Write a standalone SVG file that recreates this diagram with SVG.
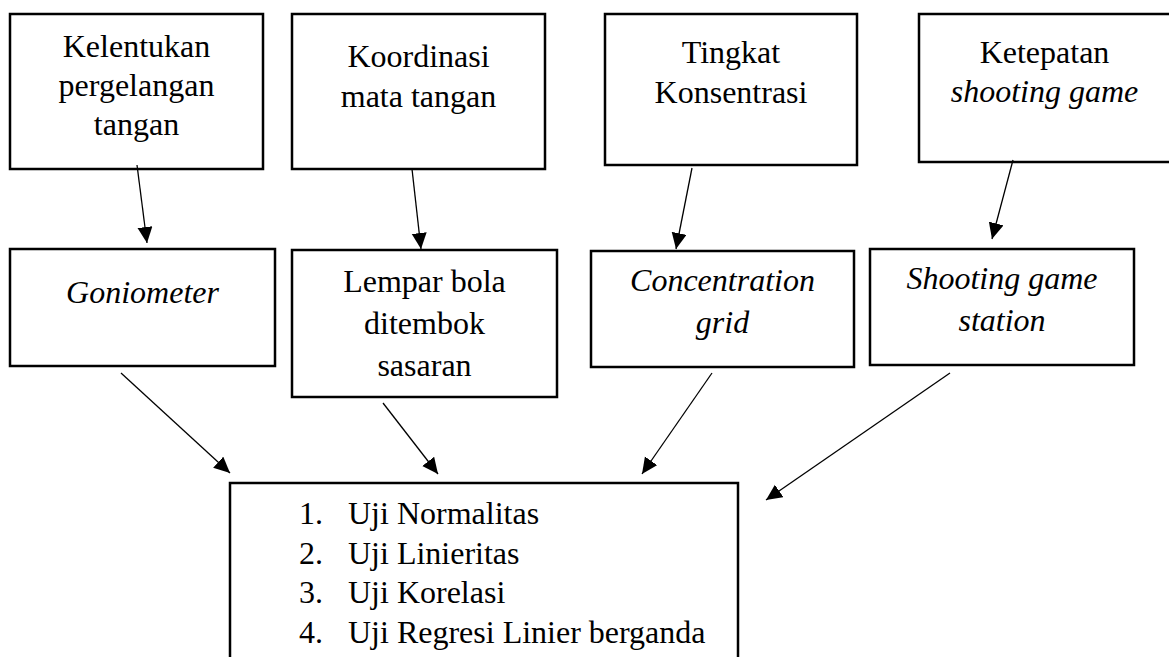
<svg xmlns="http://www.w3.org/2000/svg" width="1169" height="657" viewBox="0 0 1169 657">
<style>
.box{fill:#fff;stroke:#000;stroke-width:2.5}
.t{font-family:"Liberation Serif","Times New Roman",serif;font-size:32px;fill:#000;text-anchor:middle}
.i{font-style:italic}
.l{text-anchor:start}
.c{stroke:#000;stroke-width:1.3;fill:none;marker-end:url(#ah)}
</style>
<defs>
<marker id="ah" markerUnits="userSpaceOnUse" markerWidth="17" markerHeight="16" refX="16" refY="7.5" orient="auto">
<path d="M0,0 L16,7.5 L0,15 z" fill="#000"/>
</marker>
</defs>
<rect width="1169" height="657" fill="#fff"/>
<g id="n1"><rect class="box" x="10" y="14" width="253" height="155"/>
<text class="t" x="136.5" y="57">Kelentukan</text><text class="t" x="136.5" y="96">pergelangan</text><text class="t" x="136.5" y="135">tangan</text></g>
<g id="n2"><rect class="box" x="292" y="14" width="253" height="155"/>
<text class="t" x="418.5" y="67">Koordinasi</text><text class="t" x="418.5" y="107">mata tangan</text></g>
<g id="n3"><rect class="box" x="605" y="14" width="252" height="151"/>
<text class="t" x="731" y="63">Tingkat</text><text class="t" x="731" y="103">Konsentrasi</text></g>
<g id="n4"><rect class="box" x="919" y="14" width="252" height="148"/>
<text class="t" x="1044.5" y="63">Ketepatan</text><text class="t i" x="1044.5" y="102">shooting game</text></g>
<g id="n5"><rect class="box" x="10" y="249" width="265" height="117"/>
<text class="t i" x="142.5" y="303">Goniometer</text></g>
<g id="n6"><rect class="box" x="292" y="250" width="265" height="147"/>
<text class="t" x="424.5" y="292">Lempar bola</text><text class="t" x="424.5" y="334">ditembok</text><text class="t" x="424.5" y="376">sasaran</text></g>
<g id="n7"><rect class="box" x="591" y="251" width="263" height="116"/>
<text class="t i" x="722.5" y="291">Concentration</text><text class="t i" x="722.5" y="333">grid</text></g>
<g id="n8"><rect class="box" x="870" y="249" width="264" height="116"/>
<text class="t i" x="1002" y="289">Shooting game</text><text class="t i" x="1002" y="331">station</text></g>
<g id="n9"><rect class="box" x="230" y="483" width="508" height="200"/>
<text class="t l" x="299" y="524">1.</text><text class="t l" x="348" y="524">Uji Normalitas</text>
<text class="t l" x="299" y="564">2.</text><text class="t l" x="348" y="564">Uji Linieritas</text>
<text class="t l" x="299" y="603">3.</text><text class="t l" x="348" y="603">Uji Korelasi</text>
<text class="t l" x="299" y="643">4.</text><text class="t l" x="348" y="643">Uji Regresi Linier berganda</text></g>
<g id="connectors">
<line class="c" x1="137" y1="165" x2="147" y2="243"/>
<line class="c" x1="412" y1="169" x2="421" y2="249"/>
<line class="c" x1="692" y1="168" x2="676" y2="249"/>
<line class="c" x1="1013" y1="160" x2="992" y2="239"/>
<line class="c" x1="121" y1="373" x2="230" y2="473"/>
<line class="c" x1="383" y1="403" x2="438" y2="474"/>
<line class="c" x1="712" y1="373" x2="642" y2="474"/>
<line class="c" x1="950" y1="373" x2="766" y2="500"/>
</g>
</svg>
